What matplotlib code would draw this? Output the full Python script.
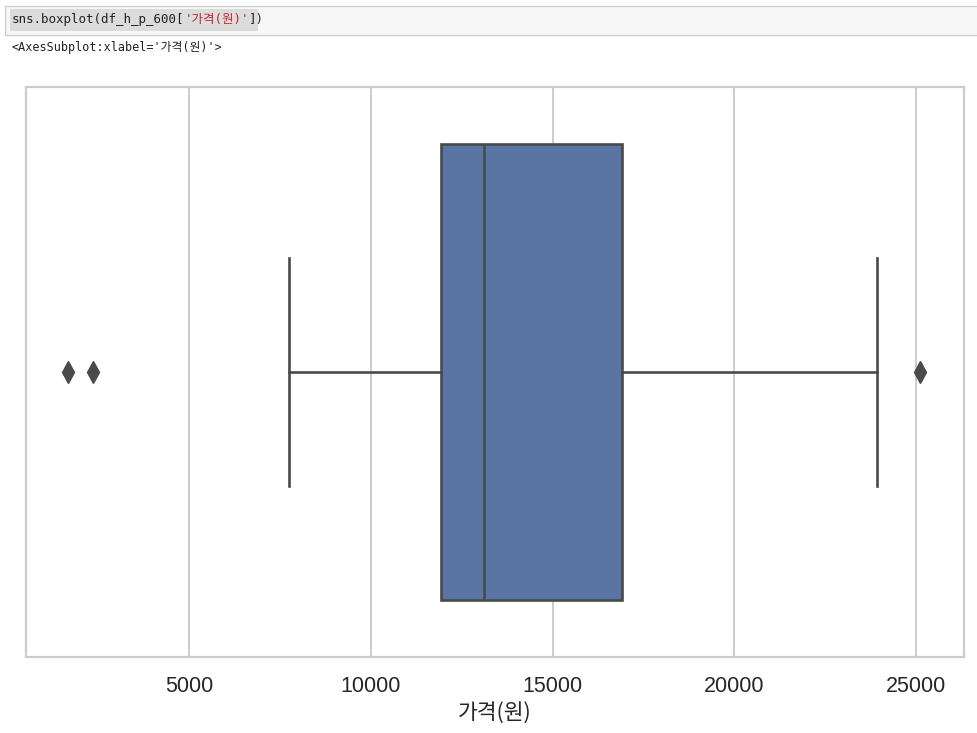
import matplotlib
matplotlib.use("Agg")
import matplotlib.pyplot as plt
from matplotlib.patches import Rectangle

# ---- data ----
column_label = "가격(원)"
q1 = 11930
median = 13120
q3 = 16910
whisker_low = 7750
whisker_high = 23930
fliers = [1670, 2360, 25110]
xticks = [5000, 10000, 15000, 20000, 25000]

W, H = 977, 733
fig = plt.figure(figsize=(W / 100, H / 100), dpi=100)
fig.patch.set_facecolor("white")

# ---- notebook cell decoration ----
fig.patches.append(Rectangle((5 / W, 1 - 35 / H), 980 / W, 29 / H, transform=fig.transFigure,
                             facecolor="#f7f7f7", edgecolor="#cfcfcf", lw=1.0))
fig.patches.append(Rectangle((10 / W, 1 - 31 / H), 248 / W, 22 / H, transform=fig.transFigure,
                             facecolor="#dcdcdc", edgecolor="none"))
mono = ["DejaVu Sans Mono", "Noto Sans CJK KR"]
t1 = fig.text(12 / W, 1 - 20 / H, "sns.boxplot(df_h_p_600[", family=mono, fontsize=9,
              va="center", ha="left", color="#222222")
a2 = fig.add_artist(plt.Annotation("'" + column_label + "'", xy=(1, 0.5), xycoords=t1,
                                   va="center", ha="left", family=mono, fontsize=9, color="#c0262d"))
a3 = fig.add_artist(plt.Annotation("])", xy=(1, 0.5), xycoords=a2,
                                   va="center", ha="left", family=mono, fontsize=9, color="#222222"))
fig.text(12 / W, 1 - 48 / H, "<AxesSubplot:xlabel='" + column_label + "'>", family=mono,
         fontsize=8.5, va="center", ha="left", color="#222222")

# ---- axes ----
ax = fig.add_axes([26 / W, 1 - 657 / H, (964 - 26) / W, (657 - 87) / H])
ax.set_facecolor("white")
for s in ax.spines.values():
    s.set_color("#cccccc")
    s.set_linewidth(1.6)

line_color = "#4a4a4a"
box_color = "#5875a4"
stats = [dict(med=median, q1=q1, q3=q3, whislo=whisker_low, whishi=whisker_high,
              fliers=fliers, label="")]
ax.bxp(stats, positions=[0], widths=0.8, orientation="horizontal", patch_artist=True,
       showfliers=True,
       boxprops=dict(facecolor=box_color, edgecolor=line_color, linewidth=1.9),
       medianprops=dict(color=line_color, linewidth=1.9),
       whiskerprops=dict(color=line_color, linewidth=1.9),
       capprops=dict(color=line_color, linewidth=1.9),
       capwidths=0.4,
       flierprops=dict(marker="d", markersize=11, markerfacecolor=line_color,
                       markeredgecolor=line_color, linestyle="none"),
       zorder=3)

ax.set_xlim(516, 26320)
ax.set_ylim(0.5, -0.5)
ax.set_xticks(xticks)
ax.set_xticklabels([str(v) for v in xticks], family=["Liberation Sans"], fontsize=15.5,
                   color="#262626")
ax.set_yticks([])
ax.tick_params(axis="x", length=0, pad=14)
ax.grid(axis="x", color="#cccccc", linewidth=1.4, zorder=0)
ax.set_axisbelow(True)
ax.set_xlabel(column_label, family=["Noto Sans CJK KR", "Liberation Sans"], fontsize=15.5,
              color="#262626", labelpad=4)

fig.savefig("out.png", dpi=100)
